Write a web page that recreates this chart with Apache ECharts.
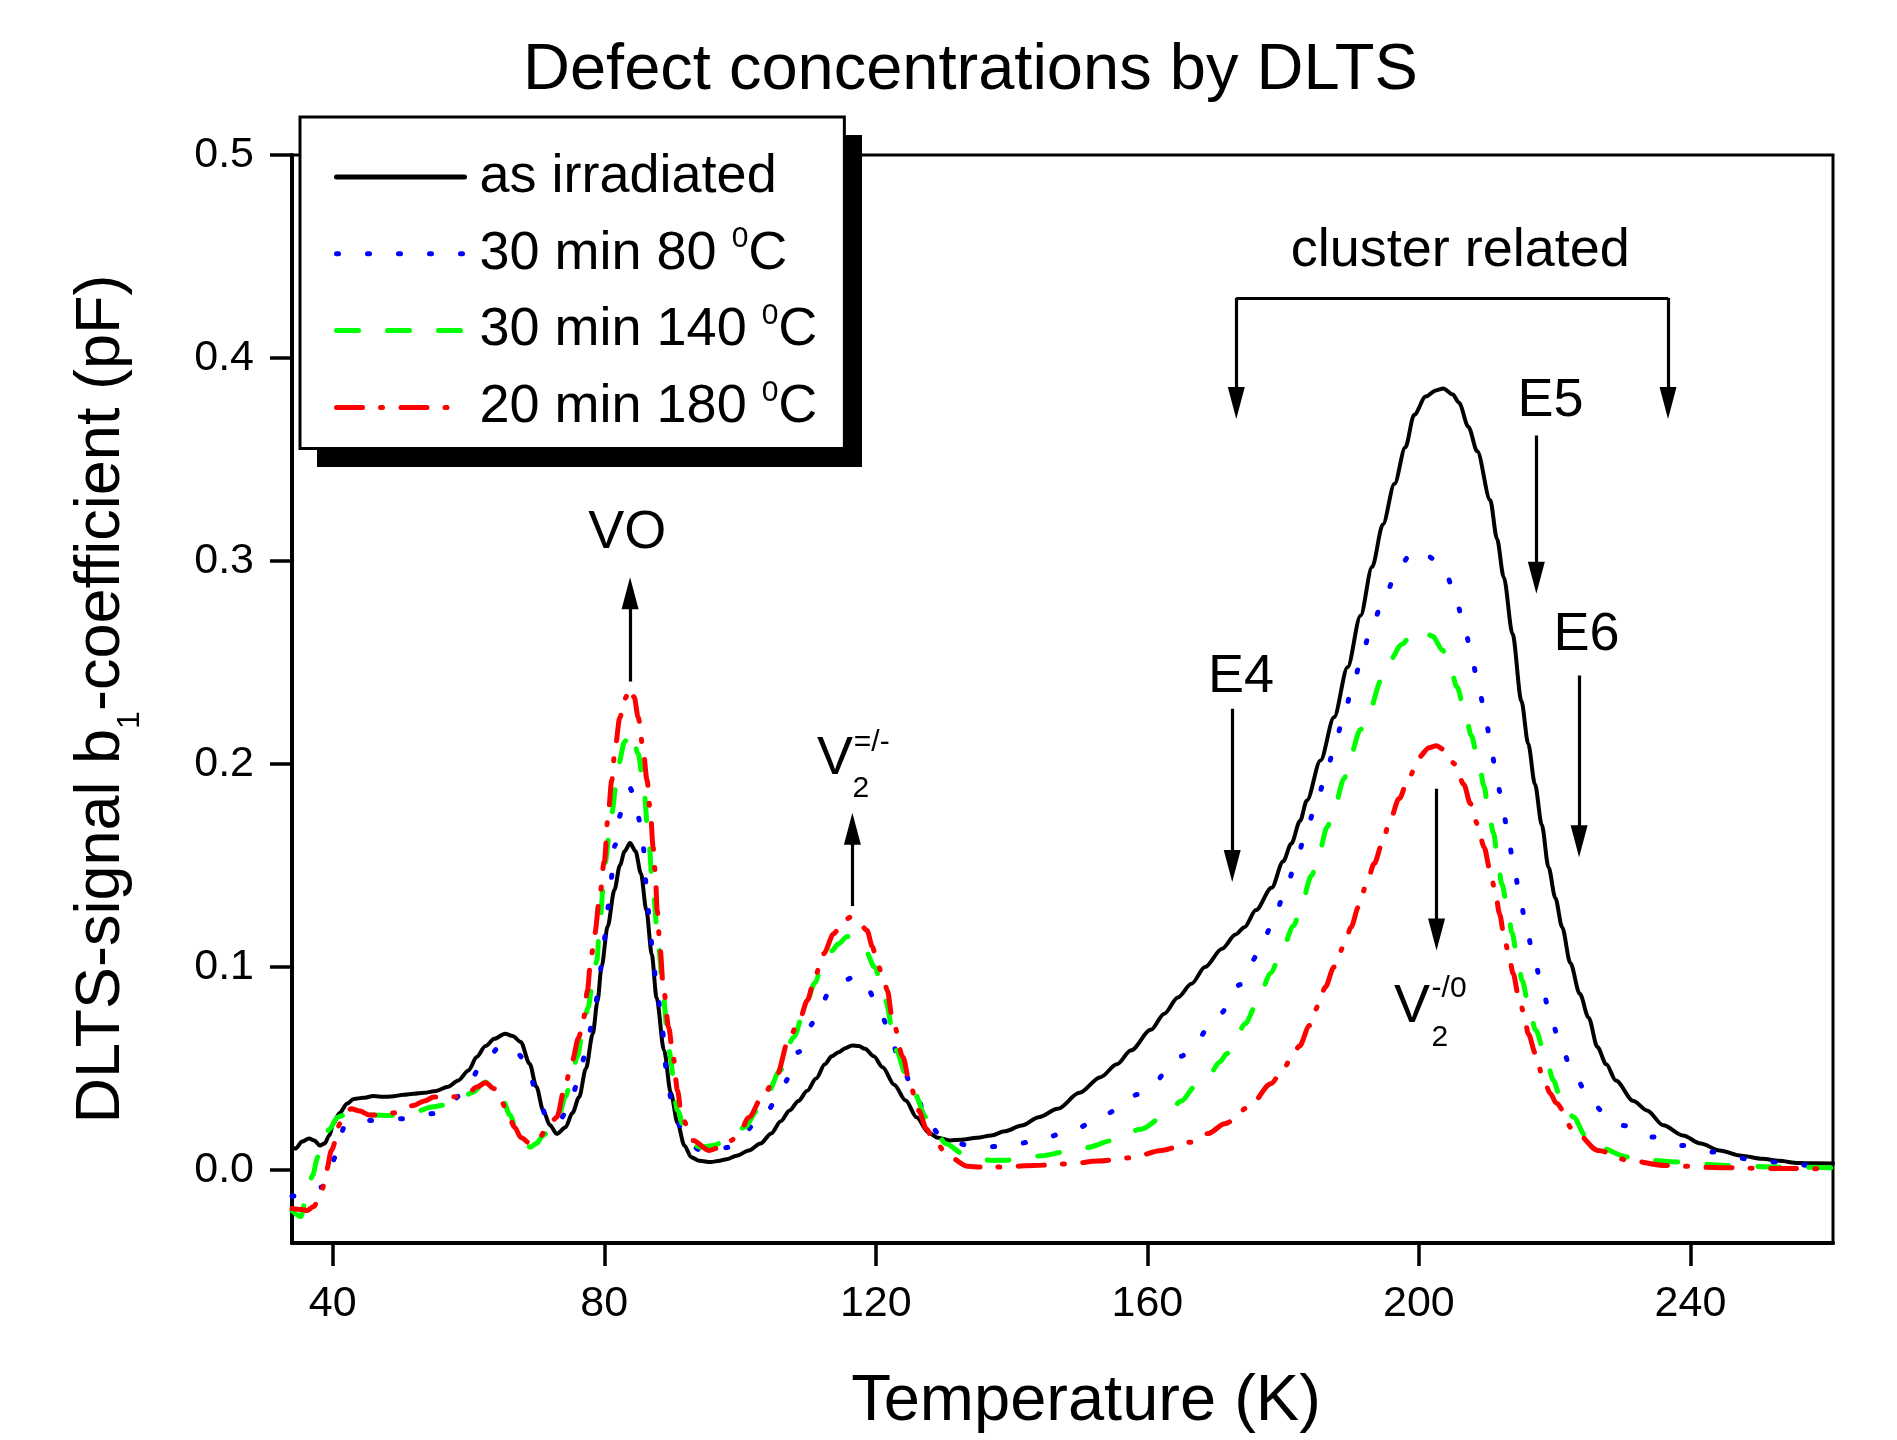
<!DOCTYPE html>
<html>
<head>
<meta charset="utf-8">
<title>Defect concentrations by DLTS</title>
<script src="https://cdn.jsdelivr.net/npm/echarts@6.0.0/dist/echarts.min.js"></script>
<style>
  html, body { margin: 0; padding: 0; background: #fff; }
  #chart { width: 1897px; height: 1440px; }
</style>
</head>
<body>
<div id="chart"></div>
<script>
// values: [temperature (K), b1 (pF)]
const asIrradiated = [[34.0,0.011],[34.5,0.0105],[35.5,0.014],[36.5,0.0155],[37.3,0.0145],[38.1,0.012],[38.8,0.013],[39.5,0.017],[40.1,0.0228],[41.0,0.028],[42.1,0.0326],[43.1,0.035],[44.5,0.0355],[46.0,0.0364],[47.5,0.036],[48.6,0.0362],[50.5,0.037],[51.9,0.0375],[53.5,0.038],[55.2,0.0389],[57.0,0.041],[58.5,0.0441],[60.0,0.049],[61.2,0.0556],[62.5,0.061],[63.8,0.0646],[65.4,0.0671],[66.5,0.066],[67.7,0.063],[69.0,0.0523],[70.0,0.041],[71.0,0.0293],[72.0,0.022],[73.0,0.0178],[74.3,0.021],[75.3,0.028],[76.3,0.0359],[77.3,0.05],[78.3,0.067],[79.0,0.083],[79.6,0.1],[80.5,0.12],[81.5,0.138],[82.3,0.15],[83.0,0.157],[83.8,0.161],[84.6,0.157],[85.4,0.146],[86.2,0.128],[87.0,0.106],[87.7,0.085],[88.8,0.059],[89.8,0.038],[90.8,0.023],[91.8,0.012],[92.8,0.0063],[94.0,0.0045],[95.7,0.0039],[97.0,0.0045],[98.0,0.0053],[99.5,0.007],[101.3,0.0096],[103.0,0.013],[104.6,0.018],[106.0,0.024],[107.3,0.0293],[108.6,0.034],[109.9,0.039],[111.2,0.045],[112.5,0.052],[113.5,0.056],[114.5,0.058],[115.5,0.06],[116.5,0.0613],[117.5,0.061],[118.4,0.0597],[119.7,0.056],[121.0,0.0506],[122.7,0.042],[124.4,0.0342],[126.0,0.026],[127.7,0.0186],[129.0,0.016],[130.9,0.0145],[132.6,0.0149],[134.9,0.0158],[137.0,0.017],[139.0,0.019],[141.5,0.0219],[144.0,0.026],[146.8,0.0301],[150.0,0.038],[153.1,0.0457],[155.5,0.052],[157.6,0.0589],[160.5,0.069],[162.5,0.077],[164.5,0.085],[166.5,0.0917],[168.5,0.1],[171.0,0.109],[173.0,0.116],[174.3,0.1196],[176.0,0.128],[178.3,0.139],[180.0,0.152],[181.2,0.1607],[182.5,0.172],[183.5,0.182],[185.5,0.2017],[187.5,0.223],[189.5,0.2477],[191.4,0.273],[193.1,0.297],[194.7,0.318],[196.4,0.338],[198.0,0.356],[199.3,0.372],[201.0,0.381],[202.5,0.384],[203.6,0.385],[205.0,0.382],[205.9,0.378],[207.3,0.366],[208.6,0.354],[210.5,0.33],[211.5,0.311],[212.5,0.292],[213.8,0.264],[215.1,0.231],[216.1,0.21],[217.1,0.19],[218.1,0.17],[219.1,0.149],[220.1,0.134],[221.1,0.1196],[222.3,0.102],[223.7,0.0868],[225.0,0.075],[226.3,0.0605],[227.6,0.052],[229.0,0.0441],[231.6,0.034],[233.6,0.0293],[236.0,0.022],[238.9,0.017],[241.5,0.013],[244.3,0.0096],[247.5,0.007],[250.6,0.0055],[253.0,0.0045],[255.9,0.0034],[258.5,0.0033],[261.0,0.0032]];

const anneal80 = [[34.0,-0.013],[35.5,-0.0125],[37.0,-0.011],[38.4,-0.0085],[39.4,-0.001],[40.4,0.0063],[41.7,0.021],[43.0,0.024],[45.7,0.0244],[48.0,0.0245],[50.3,0.0252],[52.5,0.026],[54.6,0.0277],[56.8,0.031],[58.8,0.0367],[60.2,0.043],[61.5,0.0498],[63.2,0.057],[64.8,0.0613],[66.5,0.06],[68.4,0.054],[70.0,0.039],[71.7,0.0244],[72.8,0.022],[74.7,0.0293],[76.0,0.042],[77.3,0.058],[78.6,0.08],[79.2,0.09],[79.6,0.1017],[80.2,0.1165],[80.6,0.13],[81.6,0.16],[82.2,0.174],[83.0,0.184],[83.8,0.188],[84.5,0.183],[85.0,0.174],[85.7,0.16],[86.4,0.13],[86.8,0.1165],[87.2,0.1017],[87.8,0.089],[88.5,0.07],[89.2,0.048],[90.1,0.0293],[92.1,0.0145],[94.0,0.01],[96.0,0.0088],[98.0,0.011],[100.3,0.017],[102.0,0.022],[104.0,0.0293],[106.6,0.0433],[108.6,0.058],[110.9,0.0728],[113.2,0.0876],[115.0,0.093],[117.1,0.0953],[118.5,0.091],[120.1,0.0827],[122.1,0.0679],[123.4,0.054],[125.7,0.039],[127.7,0.0235],[129.5,0.017],[131.6,0.0135],[134.0,0.0118],[136.1,0.0112],[138.5,0.0118],[140.6,0.0126],[143.0,0.014],[145.1,0.0159],[147.5,0.018],[149.6,0.0203],[152.0,0.024],[154.0,0.0277],[156.5,0.032],[158.5,0.0372],[161.0,0.043],[163.0,0.049],[165.0,0.056],[167.1,0.0625],[169.0,0.07],[170.7,0.077],[173.7,0.0914],[176.3,0.106],[178.3,0.12],[180.1,0.135],[181.7,0.149],[183.2,0.164],[184.7,0.1784],[186.2,0.193],[187.5,0.2075],[188.8,0.222],[190.1,0.236],[191.4,0.25],[192.8,0.265],[194.6,0.279],[196.7,0.294],[198.5,0.302],[200.3,0.3055],[202.2,0.301],[204.0,0.2937],[205.6,0.279],[206.9,0.2644],[207.9,0.25],[208.9,0.236],[209.9,0.221],[210.7,0.206],[211.5,0.192],[212.4,0.1774],[213.2,0.163],[214.0,0.149],[214.9,0.134],[215.8,0.1196],[216.9,0.105],[218.1,0.0909],[219.3,0.0766],[220.8,0.0622],[222.7,0.0477],[225.5,0.0326],[228.0,0.026],[230.0,0.0219],[234.5,0.0162],[238.9,0.012],[243.4,0.0088],[248.3,0.0055],[252.8,0.0038],[257.7,0.0022],[261.0,0.002]];

const anneal140 = [[34.0,-0.02],[35.3,-0.023],[36.1,-0.0134],[37.0,-0.003],[37.8,0.0063],[38.4,0.012],[39.5,0.02],[40.7,0.026],[42.7,0.0285],[45.4,0.027],[48.6,0.0268],[50.8,0.028],[52.5,0.029],[54.6,0.031],[56.5,0.032],[58.5,0.0342],[60.5,0.038],[62.5,0.0433],[63.8,0.04],[65.1,0.0342],[66.1,0.027],[67.1,0.0195],[68.1,0.014],[69.1,0.0112],[70.0,0.013],[71.0,0.017],[72.0,0.02],[73.0,0.0228],[74.3,0.036],[75.2,0.046],[76.0,0.0556],[76.8,0.067],[77.6,0.08],[78.3,0.092],[78.9,0.103],[79.4,0.1245],[80.1,0.151],[81.1,0.176],[82.1,0.2],[83.0,0.211],[84.0,0.216],[85.0,0.205],[85.8,0.1886],[86.5,0.164],[87.2,0.136],[88.0,0.11],[88.7,0.085],[89.5,0.0589],[90.8,0.0293],[92.1,0.016],[94.1,0.0112],[96.0,0.012],[98.0,0.0145],[100.7,0.021],[102.5,0.029],[104.0,0.0375],[105.9,0.049],[107.9,0.0654],[109.6,0.08],[111.0,0.092],[112.2,0.1016],[113.5,0.108],[114.5,0.1114],[115.8,0.115],[117.0,0.1145],[118.5,0.108],[119.8,0.1],[121.4,0.0835],[123.0,0.0589],[124.4,0.0475],[125.7,0.0375],[127.4,0.026],[128.8,0.019],[130.3,0.0129],[132.9,0.008],[135.0,0.0055],[137.0,0.0047],[139.0,0.0048],[141.5,0.0055],[144.5,0.007],[147.8,0.0088],[151.0,0.011],[154.9,0.0145],[159.0,0.02],[163.0,0.0277],[165.0,0.034],[167.0,0.041],[169.4,0.0482],[170.6,0.053],[171.7,0.0572],[173.0,0.065],[174.4,0.072],[176.0,0.081],[178.2,0.097],[179.6,0.1065],[181.6,0.1204],[182.6,0.13],[184.2,0.145],[185.2,0.155],[186.5,0.169],[187.5,0.178],[189.0,0.193],[189.8,0.203],[191.4,0.217],[192.8,0.227],[194.4,0.241],[195.7,0.251],[197.5,0.259],[199.0,0.264],[200.3,0.266],[202.0,0.263],[203.5,0.256],[204.6,0.2477],[205.6,0.238],[206.9,0.224],[207.7,0.214],[208.9,0.199],[209.6,0.189],[210.3,0.1755],[211.0,0.166],[211.7,0.15],[212.2,0.141],[213.2,0.126],[213.7,0.117],[214.6,0.1024],[215.2,0.0934],[216.3,0.0786],[217.2,0.0688],[218.8,0.054],[219.8,0.0442],[220.8,0.036],[222.8,0.026],[224.5,0.017],[226.4,0.0112],[230.9,0.0063],[234.0,0.0048],[238.0,0.0039],[245.2,0.0022],[252.4,0.0015],[261.0,0.001]];

const anneal180 = [[34.0,-0.019],[35.5,-0.0195],[36.2,-0.02],[37.2,-0.018],[38.4,-0.0101],[39.1,0.0],[39.8,0.0096],[41.1,0.0228],[42.7,0.0301],[44.0,0.029],[45.4,0.027],[47.0,0.027],[48.9,0.028],[50.5,0.03],[51.9,0.0318],[53.5,0.034],[54.9,0.0359],[56.5,0.036],[58.5,0.036],[60.0,0.038],[61.2,0.0408],[62.5,0.043],[63.8,0.04],[64.8,0.034],[65.8,0.0277],[66.8,0.021],[67.7,0.016],[69.1,0.013],[70.4,0.016],[71.7,0.021],[73.0,0.026],[74.3,0.0425],[75.3,0.054],[76.2,0.065],[77.0,0.0753],[77.5,0.088],[78.0,0.103],[78.6,0.1163],[79.3,0.134],[80.0,0.152],[80.6,0.176],[81.1,0.192],[81.6,0.208],[82.3,0.223],[83.0,0.232],[83.8,0.2375],[84.4,0.233],[85.0,0.223],[85.7,0.208],[86.3,0.192],[86.8,0.1755],[87.2,0.159],[87.5,0.147],[87.8,0.128],[88.2,0.11],[88.7,0.09],[89.5,0.07],[90.1,0.057],[90.8,0.039],[91.4,0.026],[93.1,0.0145],[95.4,0.0096],[97.0,0.011],[98.7,0.0145],[100.0,0.019],[101.3,0.026],[103.3,0.036],[105.3,0.0457],[107.3,0.0654],[108.9,0.0753],[109.9,0.0835],[110.9,0.093],[111.7,0.1],[112.3,0.1065],[113.8,0.1163],[115.0,0.122],[116.3,0.1245],[117.5,0.122],[118.7,0.118],[119.5,0.11],[120.2,0.1016],[121.1,0.095],[121.7,0.0884],[122.4,0.0753],[124.0,0.0556],[125.0,0.0425],[126.3,0.0293],[127.5,0.02],[128.5,0.0145],[130.9,0.0063],[133.5,0.0018],[135.5,0.0014],[137.9,0.0014],[140.5,0.0018],[143.3,0.0022],[148.7,0.003],[152.7,0.0044],[157.6,0.006],[162.1,0.0096],[166.5,0.0137],[169.0,0.018],[171.4,0.0228],[175.0,0.031],[178.2,0.0425],[179.9,0.049],[181.2,0.055],[182.4,0.061],[183.9,0.0712],[185.2,0.081],[186.2,0.09],[187.5,0.1],[189.0,0.1106],[190.0,0.1196],[191.1,0.1295],[192.3,0.141],[193.4,0.1508],[194.6,0.1607],[195.7,0.172],[197.1,0.183],[198.4,0.192],[200.0,0.2034],[201.5,0.208],[202.6,0.209],[203.7,0.207],[205.3,0.2],[206.6,0.19],[207.6,0.1804],[208.6,0.1706],[209.6,0.159],[210.5,0.1475],[211.2,0.1377],[211.9,0.126],[212.5,0.1163],[213.2,0.1065],[213.9,0.0967],[214.6,0.0868],[215.5,0.077],[216.1,0.0671],[217.2,0.0572],[218.1,0.0474],[219.4,0.0375],[220.2,0.033],[222.8,0.0195],[226.4,0.0096],[230.9,0.0047],[236.3,0.0022],[244.3,0.0011],[252.4,0.0007],[261.0,0.0005]];

const seriesNames = ['as irradiated', '30 min 80 °C', '30 min 140 °C', '20 min 180 °C'];
const xTicks = [40, 80, 120, 160, 200, 240];
const yTicks = [0, 0.1, 0.2, 0.3, 0.4, 0.5];

// annotation texts in data coordinates [T, b1]
const bigLabels = [
  ['VO', 83.4, 0.3135],
  ['cluster related', 206.1, 0.4525],
  ['E4', 173.8, 0.2428],
  ['E5', 219.4, 0.3786],
  ['E6', 224.7, 0.2634],
  ['V', 114.0, 0.2022],
  ['V', 199.0, 0.080]
];
const smallLabels = [
  ['2', 117.8, 0.1879],
  ['=/-', 119.4, 0.2103],
  ['2', 203.1, 0.0650],
  ['-/0', 204.45, 0.0892]
];
// arrows: [T, start, tip]
const arrows = [
  [83.8, 0.2406, 0.292],
  [116.55, 0.130, 0.176],
  [172.5, 0.2272, 0.1418],
  [217.3, 0.3618, 0.2838],
  [223.6, 0.2436, 0.154],
  [202.6, 0.1878, 0.1081],
  [173.1, 0.4296, 0.37],
  [236.7, 0.4296, 0.37]
];
const bracket = [173.1, 236.7, 0.4296];

const FONT = '"Liberation Sans", Arial, Helvetica, sans-serif';
const X_MIN = 34, X_MAX = 261, Y_MIN = -0.036, Y_MAX = 0.5;
const GRID = { left: 292, right: 64, top: 155, bottom: 197 };
const HEAD = [17, 32];

const chart = echarts.init(document.getElementById('chart'));
const pxPerUnit = (1440 - GRID.top - GRID.bottom) / (Y_MAX - Y_MIN);
const halfHead = HEAD[1] / 2 / pxPerUnit;

const markLines = arrows.map(function (a) {
  const dir = a[2] > a[1] ? 1 : -1;
  return [{ coord: [a[0], a[1]] }, { coord: [a[0], a[2] - dir * halfHead] }];
});
markLines.push([
  { coord: [bracket[0], bracket[2]], symbol: 'none' },
  { coord: [bracket[1], bracket[2]], symbol: 'none' }
]);

const markPoints = bigLabels.map(function (l) {
  return { coord: [l[1], l[2]], label: { formatter: l[0], fontSize: 54 } };
}).concat(smallLabels.map(function (l) {
  return { coord: [l[1], l[2]], label: { formatter: l[0], fontSize: 30 } };
}));

function curve(name, data, color, width, dash) {
  return {
    name: name,
    type: 'line',
    data: data,
    symbol: 'none',
    showSymbol: false,
    smooth: 0.3,
    smoothMonotone: 'x',
    lineStyle: { color: color, width: width, type: dash, cap: 'round' },
    itemStyle: { color: color },
    emphasis: { disabled: true }
  };
}

const series = [
  curve(seriesNames[0], asIrradiated, '#000000', 4, 'solid'),
  curve(seriesNames[1], anneal80, '#0000ff', 5, [2, 29]),
  curve(seriesNames[2], anneal140, '#00ff00', 5, [22, 29]),
  curve(seriesNames[3], anneal180, '#ff0000', 5, [26, 18, 2, 18.5])
];
series.push({
  name: 'annotations',
  type: 'line',
  data: [],
  silent: true,
  markLine: {
    silent: true,
    symbol: ['none', 'triangle'],
    symbolSize: HEAD,
    label: { show: false },
    lineStyle: { color: '#000', width: 3.2, type: 'solid' },
    emphasis: { disabled: true },
    data: markLines
  },
  markPoint: {
    silent: true,
    symbol: 'circle',
    symbolSize: 1,
    itemStyle: { color: 'rgba(0,0,0,0)' },
    label: { show: true, position: 'inside', color: '#000', fontFamily: FONT },
    data: markPoints
  }
});

chart.setOption({
  animation: false,
  backgroundColor: '#fff',
  title: {
    text: 'Defect concentrations by DLTS',
    left: 523,
    top: 38,
    padding: 0,
    textStyle: { fontFamily: FONT, fontSize: 65, fontWeight: 'normal', color: '#000', lineHeight: 66 }
  },
  // solid drop shadow behind the legend box
  graphic: [{
    type: 'rect',
    z: 3,
    silent: true,
    shape: { x: 317, y: 135, width: 545, height: 332 },
    style: { fill: '#000' }
  }],
  legend: {
    data: seriesNames,
    orient: 'vertical',
    left: 300,
    top: 117,
    z: 5,
    padding: [33, 27, 14, 34],
    itemGap: 19.8,
    itemWidth: 128,
    itemHeight: 20,
    selectedMode: false,
    backgroundColor: '#fff',
    borderColor: '#000',
    borderWidth: 3,
    itemStyle: { opacity: 0 },
    lineStyle: { width: 5 },
    formatter: function (name) {
      if (name.indexOf('°C') < 0) return '{a|' + name + '}';
      return '{a|' + name.replace('°C', '') + '}{s|0}{t|C}';
    },
    textStyle: {
      fontFamily: FONT, fontSize: 54, color: '#000',
      rich: {
        a: { fontFamily: FONT, fontSize: 54, lineHeight: 60, padding: [0, 0, 0, 10] },
        t: { fontFamily: FONT, fontSize: 54, lineHeight: 60 },
        s: { fontFamily: FONT, fontSize: 30, lineHeight: 16, verticalAlign: 'top' }
      }
    }
  },
  grid: {
    left: GRID.left, right: GRID.right, top: GRID.top, bottom: GRID.bottom,
    show: true, borderColor: '#000', borderWidth: 3, backgroundColor: 'transparent'
  },
  xAxis: {
    type: 'value',
    min: X_MIN,
    max: X_MAX,
    name: 'Temperature (K)',
    nameLocation: 'middle',
    nameGap: 126,
    nameTextStyle: { fontFamily: FONT, fontSize: 65, color: '#000', lineHeight: 66, padding: [0, 0, 0, 47] },
    axisLine: { show: true, onZero: false, lineStyle: { color: '#000', width: 4 } },
    axisTick: { show: true, inside: false, length: 23, customValues: xTicks, lineStyle: { color: '#000', width: 3.5 } },
    axisLabel: { customValues: xTicks, margin: 40, fontFamily: FONT, fontSize: 43, color: '#000' },
    splitLine: { show: false }
  },
  yAxis: {
    type: 'value',
    min: Y_MIN,
    max: Y_MAX,
    name: '{t|DLTS-signal b}{s|1}{t|-coefficient (pF)}',
    nameLocation: 'middle',
    nameRotate: 90,
    nameGap: 146,
    nameTextStyle: {
      fontFamily: FONT, fontSize: 63, color: '#000',
      rich: {
        t: { fontFamily: FONT, fontSize: 63, lineHeight: 76, verticalAlign: 'top' },
        s: { fontFamily: FONT, fontSize: 32, lineHeight: 6, verticalAlign: 'bottom' }
      }
    },
    axisLine: { show: true, onZero: false, lineStyle: { color: '#000', width: 4 } },
    axisTick: { show: true, inside: false, length: 22, customValues: yTicks, lineStyle: { color: '#000', width: 3.5 } },
    axisLabel: {
      customValues: yTicks, margin: 38, fontFamily: FONT, fontSize: 43, color: '#000',
      formatter: function (v) { return v.toFixed(1); }
    },
    splitLine: { show: false }
  },
  series: series
});
</script>
</body>
</html>
